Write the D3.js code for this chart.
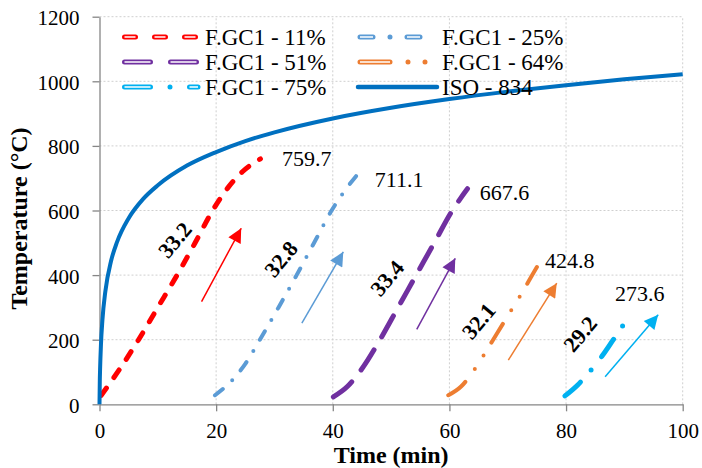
<!DOCTYPE html>
<html>
<head>
<meta charset="utf-8">
<script src="https://cdn.jsdelivr.net/npm/d3@7"></script>
</head>
<body style="margin:0;background:#fff">
<script>
// ---------------- data ----------------
const xTicks = [0, 20, 40, 60, 80, 100];
const yTicks = [0, 200, 400, 600, 800, 1000, 1200];

const seriesNames = ["F.GC1 - 11%", "F.GC1 - 25%", "F.GC1 - 51%", "F.GC1 - 64%", "F.GC1 - 75%", "ISO - 834"];

const gc11Time = [0.3, 3.5, 6.7, 10, 13.3, 16.4, 19.4, 22, 24.5, 27.6];
const gc11Temp = [28, 110, 200, 300, 400, 500, 600, 670, 720, 759.7];

const gc25Time = [19.8, 22.5, 25, 27.5, 30.7, 33.8, 36.8, 39.8, 42, 44.2];
const gc25Temp = [28, 70, 125, 200, 300, 400, 500, 600, 660, 711.1];

const gc51Time = [40.1, 42.5, 45, 48.1, 51.2, 54.3, 57.4, 60.5, 62, 63.1];
const gc51Temp = [23, 55, 110, 200, 300, 400, 500, 600, 640, 667.6];

const gc64Time = [59.8, 62, 64, 65.8, 67.5, 69.2, 70.9, 72.6, 74.2, 75];
const gc64Temp = [28, 55, 100, 150, 200, 250, 300, 350, 400, 424.8];

const gc75Time = [79.8, 82, 84, 86.2, 88.1, 89.8, 91.5];
const gc75Temp = [26, 60, 100, 150, 200, 245, 273.6];

const isoTime = [0, 0.05, 0.1, 0.25, 0.5, 1, 2, 3, 5, 7.5, 10, 15, 20, 25, 30, 40, 50, 60, 70, 80, 90, 100];
const isoTemp = [0, 70, 108, 185, 261, 349, 445, 502, 576, 636, 678, 739, 781, 815, 842, 885, 918, 945, 968, 988, 1006, 1022];

// end value labels (text anchor: time, temperature)
const endLabels = ["759.7", "711.1", "667.6", "424.8", "273.6"];
const endLabelTime = [31.3, 47.2, 65.2, 76.4, 88.4];
const endLabelTemp = [738, 673, 632, 422, 320];

// heating rate labels (center)
const rateLabels = ["33.2", "32.8", "33.4", "32.1", "29.2"];
const rateLabelTime = [12.9, 31.1, 49.3, 65.0, 82.4];
const rateLabelTemp = [509, 450, 391, 258, 218];

// arrows (start -> tip)
const arrowStartTime = [17.5, 34.7, 54.4, 70.1, 86.7];
const arrowStartTemp = [318, 251, 232, 137, 85];
const arrowTipTime = [24.3, 41.8, 61.0, 78.4, 95.8];
const arrowTipTemp = [545, 472, 452, 375, 277];

// ---------------- styles ----------------
const FONT = "Liberation Serif";
const colors = ["#FF0000", "#5B9BD5", "#7030A0", "#ED7D31", "#00B0F0", "#0070C0"];
const widths = [5, 4, 5, 4, 5, 4];
const dashes = ["9 13", "10 13 0 13", "24 15", "22 16 0 16 0 15", "21 16 0 17", null];
const legendDashes = ["11 19", "13 17 0 17 13 40", "26 20", "30 18 0 17 0 30", "26 19.5 0 19.5", null];
const legendEnds = [[124.5, 198], [360, 422], [124.5, 198], [360, 427], [124.5, 198], [358, 437]];

const W = 702, H = 468;
const x = d3.scaleLinear().domain([0, 100]).range([99.5, 682.7]);
const y = d3.scaleLinear().domain([0, 1200]).range([404.3, 16.7]);

const svg = d3.select("body").append("svg").attr("width", W).attr("height", H)
  .style("display", "block");

// gridlines
const grid = svg.append("g");
grid.selectAll(".hg").data(yTicks.filter(d => d > 0)).join("line")
  .attr("x1", x(0)).attr("x2", x(100))
  .attr("y1", d => y(d)).attr("y2", d => y(d))
  .attr("stroke", "#cfcfcf").attr("stroke-width", 1).attr("stroke-dasharray", "2 2");
grid.selectAll(".vg").data(xTicks.filter(d => d > 0)).join("line")
  .attr("x1", d => x(d)).attr("x2", d => x(d))
  .attr("y1", y(0)).attr("y2", y(1200))
  .attr("stroke", "#cfcfcf").attr("stroke-width", 1).attr("stroke-dasharray", "2 2");

// axes
const axisColor = "#868686";
const gx = svg.append("g").attr("transform", `translate(0,${y(0)})`)
  .call(d3.axisBottom(x).tickValues(xTicks).tickFormat(d3.format("d")).tickSize(7).tickSizeOuter(0))
  .attr("font-family", FONT).attr("font-size", 21);
gx.select(".domain").attr("stroke", axisColor).attr("stroke-width", 1.3);
gx.selectAll(".tick line").attr("stroke", axisColor).attr("stroke-width", 1.3);
gx.selectAll(".tick text").attr("y", 34).attr("dy", null)
  .attr("font-family", FONT).attr("font-size", 21).attr("fill", "#000");

const gy = svg.append("g").attr("transform", `translate(${x(0)},0)`)
  .call(d3.axisLeft(y).tickValues(yTicks).tickFormat(d3.format("d")).tickSize(7).tickSizeOuter(0))
  .attr("font-family", FONT).attr("font-size", 21);
gy.select(".domain").attr("stroke", axisColor).attr("stroke-width", 1.3);
gy.selectAll(".tick line").attr("stroke", axisColor).attr("stroke-width", 1.3);
gy.selectAll(".tick text").attr("x", -20).attr("dy", "0.38em")
  .attr("font-family", FONT).attr("font-size", 21).attr("fill", "#000");

// axis titles
svg.append("text").attr("x", x(50)).attr("y", 463).attr("text-anchor", "middle")
  .attr("font-family", FONT).attr("font-size", 24).attr("font-weight", "bold").text("Time (min)");
svg.append("text").attr("transform", `translate(27,${y(600) + 8}) rotate(-90)`)
  .attr("text-anchor", "middle").attr("font-family", FONT).attr("font-size", 24).attr("font-weight", "bold")
  .text("Temperature (°C)");

// series
const allTimes = [gc11Time, gc25Time, gc51Time, gc64Time, gc75Time, isoTime];
const allTemps = [gc11Temp, gc25Temp, gc51Temp, gc64Temp, gc75Temp, isoTemp];
const line = d3.line().x(d => x(d[0])).y(d => y(d[1])).curve(d3.curveMonotoneX);

allTimes.forEach((ts, i) => {
  const pts = ts.map((t, j) => [t, allTemps[i][j]]);
  svg.append("path").datum(pts).attr("d", line)
    .attr("fill", "none").attr("stroke", colors[i]).attr("stroke-width", widths[i])
    .attr("stroke-linecap", i === 5 ? "butt" : "round").attr("stroke-linejoin", "round")
    .attr("stroke-dasharray", dashes[i]);
});

// arrows
const defs = svg.append("defs");
colors.slice(0, 5).forEach((c, i) => {
  defs.append("marker").attr("id", "arr" + i)
    .attr("viewBox", "0 0 10 10").attr("refX", 10).attr("refY", 5)
    .attr("markerUnits", "userSpaceOnUse").attr("markerWidth", 16).attr("markerHeight", 14)
    .attr("orient", "auto")
    .append("path").attr("d", "M0,0 L10,5 L0,10 Z").attr("fill", c);
  svg.append("line")
    .attr("x1", x(arrowStartTime[i])).attr("y1", y(arrowStartTemp[i]))
    .attr("x2", x(arrowTipTime[i])).attr("y2", y(arrowTipTemp[i]))
    .attr("stroke", c).attr("stroke-width", 1.5)
    .attr("marker-end", `url(#arr${i})`);
});

// end labels
endLabels.forEach((t, i) => {
  svg.append("text").attr("x", x(endLabelTime[i])).attr("y", y(endLabelTemp[i]))
    .attr("font-family", FONT).attr("font-size", 22).attr("fill", "#000").text(t);
});

// rate labels
rateLabels.forEach((t, i) => {
  svg.append("text")
    .attr("transform", `translate(${x(rateLabelTime[i])},${y(rateLabelTemp[i])}) rotate(-50)`)
    .attr("text-anchor", "middle").attr("dy", "0.35em")
    .attr("font-family", FONT).attr("font-size", 22).attr("font-weight", "bold").attr("fill", "#000").text(t);
});

// legend
const legTextX = [205, 442];
const legRows = [37, 62, 87];
seriesNames.forEach((name, si) => {
  const ry = legRows[Math.floor(si / 2)];
  const [lx1, lx2] = legendEnds[si];
  svg.append("line").attr("x1", lx1).attr("x2", lx2).attr("y1", ry).attr("y2", ry)
    .attr("stroke", colors[si]).attr("stroke-width", si === 5 ? 4.5 : 5)
    .attr("stroke-linecap", "round")
    .attr("stroke-dasharray", legendDashes[si]);
  if (si !== 5) {
    // hollow (double) line look of the legend samples
    svg.append("line").attr("x1", lx1).attr("x2", lx2).attr("y1", ry).attr("y2", ry)
      .attr("stroke", "#fff").attr("stroke-width", 1.6)
      .attr("stroke-linecap", "butt")
      .attr("stroke-dasharray", legendDashes[si]);
  }
  svg.append("text").attr("x", legTextX[si % 2]).attr("y", ry + 8)
    .attr("font-family", FONT).attr("font-size", 23).attr("fill", "#000").text(name);
});
</script>
</body>
</html>
